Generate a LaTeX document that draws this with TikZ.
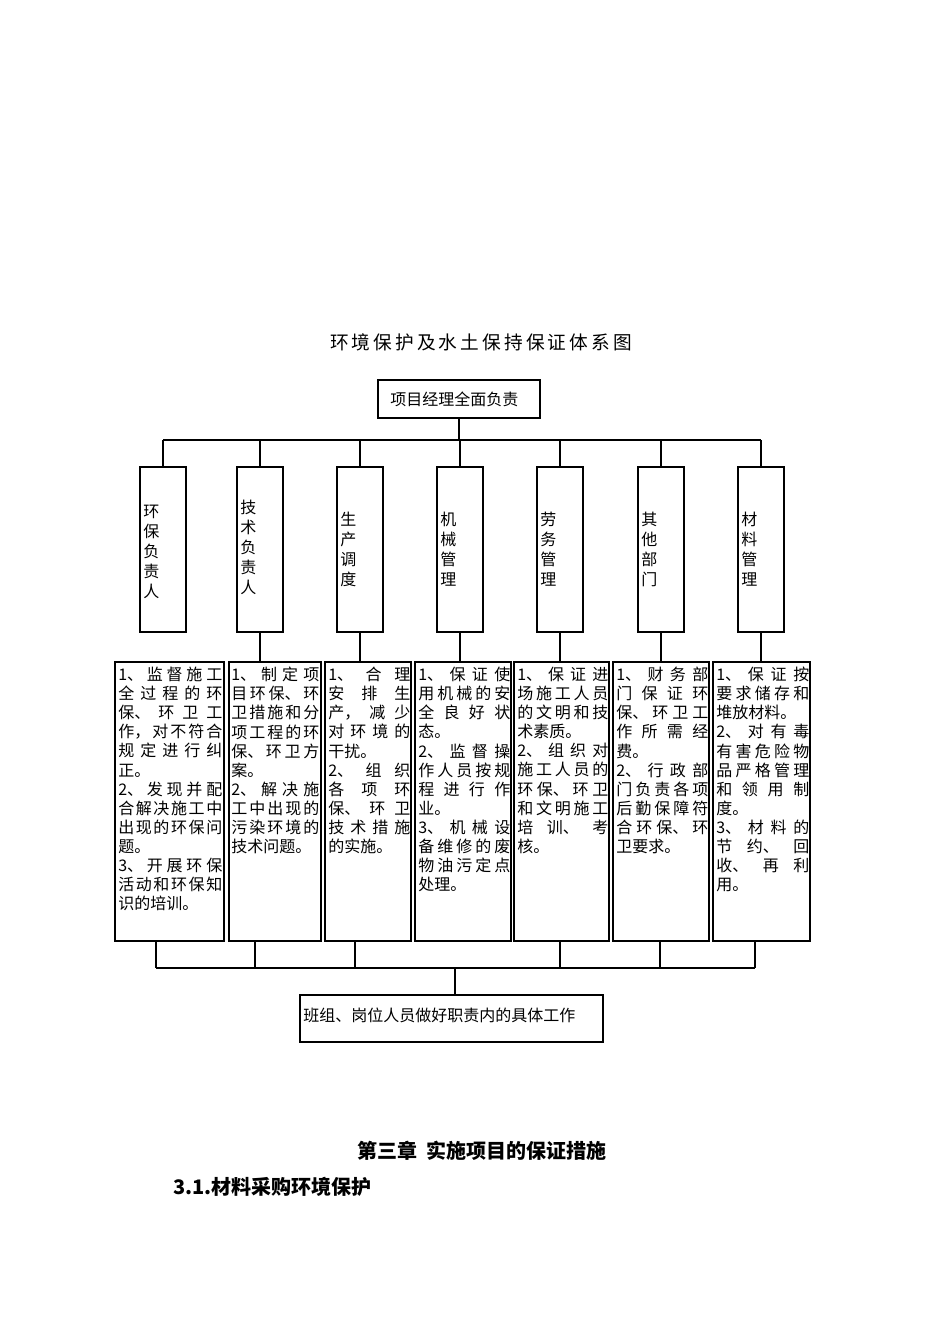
\documentclass[tikz,border=0pt]{standalone}
\usepackage{fontspec}
\setmainfont{Liberation Serif}
\newfontfamily\cjk{Noto Sans CJK SC}
\XeTeXlinebreaklocale "zh"
\XeTeXlinebreakskip=0pt plus 30pt
\begin{document}
\begin{tikzpicture}[x=0.75pt,y=-0.75pt,
  bx/.style={draw,line width=0.8pt,inner sep=0pt},
  txt/.style={anchor=north west,inner sep=0pt,align=justify,font=\cjk\fontsize{12}{14.3}\selectfont},
  vt/.style={anchor=north west,inner sep=0pt,align=left,font=\cjk\fontsize{12}{15}\selectfont},
  ln/.style={line width=0.8pt}]
\useasboundingbox (0,0) rectangle (950,1344);
\node (title) at (481,342) {\cjk\fontsize{14}{16}\selectfont 环\,境\,保\,护\,及\,水\,土\,保\,持\,保\,证\,体\,系\,图};
\node[bx,minimum width=162*0.75pt,minimum height=38*0.75pt] (top) at (459,399) {};
\node[anchor=west,inner sep=0pt] at (390,399) {\cjk\fontsize{12}{14}\selectfont 项目经理全面负责};
\coordinate (tb) at (459,440);
\draw[ln] (top.south) -- (tb);
\foreach \i/\x/\t/\dy in {1/163/{环\\保\\负\\责\\人}/505,2/260/{技\\术\\负\\责\\人}/500,3/360/{生\\产\\调\\度}/512,4/460/{机\\械\\管\\理}/512,5/560/{劳\\务\\管\\理}/512,6/661/{其\\他\\部\\门}/512,7/761/{材\\料\\管\\理}/512}{
  \node[bx,minimum width=46*0.75pt,minimum height=165*0.75pt] (v\i) at (\x,549.5) {};
  \node[vt] at (\x-20,\dy) {\t};
  \coordinate (h\i) at (\x,440);
  \draw[ln] (h\i) -- (v\i.north);
}
\draw[ln] (h1) -- (h7);
% lower boxes
\foreach \i/\l/\r in {1/115/224,2/229/321,3/325/411,4/415/511,5/514/609,6/613/709,7/713/810}{
  \node[bx,minimum width={(\r-\l)*0.75pt},minimum height=279*0.75pt] (d\i) at ({(\l+\r)/2},801.5) {};
}
\node[txt,text width=104*0.75pt] at (118,667) {1、监督施工\linebreak 全过程的环\linebreak 保、环卫工\linebreak 作，对不符合\linebreak 规定进行纠\linebreak 正。\par 2、发现并配\linebreak 合解决施工中\linebreak 出现的环保问\linebreak 题。\par 3、开展环保\linebreak 活动和环保知\linebreak 识的培训。};
\node[txt,text width=88*0.75pt] at (231,667) {1、制定项\linebreak 目环保、环\linebreak 卫措施和分\linebreak 项工程的环\linebreak 保、环卫方\linebreak 案。\par 2、解决施\linebreak 工中出现的\linebreak 污染环境的\linebreak 技术问题。};
\node[txt,text width=82*0.75pt] at (328,667) {1、合理\linebreak 安排生\linebreak 产，减少\linebreak 对环境的\linebreak 干扰。\par 2、组织\linebreak 各项环\linebreak 保、环卫\linebreak 技术措施\linebreak 的实施。};
\node[txt,text width=92*0.75pt] at (418,667) {1、保证使\linebreak 用机械的安\linebreak 全良好状\linebreak 态。\par 2、监督操\linebreak 作人员按规\linebreak 程进行作\linebreak 业。\par 3、机械设\linebreak 备维修的废\linebreak 物油污定点\linebreak 处理。};
\node[txt,text width=91*0.75pt] at (517,667) {1、保证进\linebreak 场施工人员\linebreak 的文明和技\linebreak 术素质。\par 2、组织对\linebreak 施工人员的\linebreak 环保、环卫\linebreak 和文明施工\linebreak 培训、考\linebreak 核。};
\node[txt,text width=92*0.75pt] at (616,667) {1、财务部\linebreak 门保证环\linebreak 保、环卫工\linebreak 作所需经\linebreak 费。\par 2、行政部\linebreak 门负责各项\linebreak 后勤保障符\linebreak 合环保、环\linebreak 卫要求。};
\node[txt,text width=93*0.75pt] at (716,667) {1、保证按\linebreak 要求储存和\linebreak 堆放材料。\par 2、对有毒\linebreak 有害危险物\linebreak 品严格管理\linebreak 和领用制\linebreak 度。\par 3、材料的\linebreak 节约、回\linebreak 收、再利\linebreak 用。};
\foreach \j in {2,3,4,5,6,7}{\draw[ln] (v\j.south) -- (v\j.south |- d1.north);}
% bottom bus
\foreach \k/\x in {a/156,b/255,c/355,e/560,f/660,g/755}{
  \coordinate (u\k) at (\x,941);
  \coordinate (w\k) at (\x,968);
  \draw[ln] (u\k) -- (w\k);
}
\draw[ln] (wa) -- (wg);
\node[bx,minimum width=303*0.75pt,minimum height=47*0.75pt] (bot) at (451.5,1018.5) {};
\node[anchor=west,inner sep=0pt] at (303,1015) {\cjk\fontsize{12}{14}\selectfont 班组、岗位人员做好职责内的具体工作};
\coordinate (wm) at (455,968);
\draw[ln] (wm) -- (wm |- bot.north);
\node (ch) at (482,1151) {\cjk\bfseries\fontsize{15}{18}\selectfont 第三章\ \ 实施项目的保证措施};
\node[anchor=west,inner sep=0pt] (sec) at (173,1187) {\cjk\bfseries\fontsize{15}{18}\selectfont 3.1.材料采购环境保护};
\end{tikzpicture}
\end{document}
